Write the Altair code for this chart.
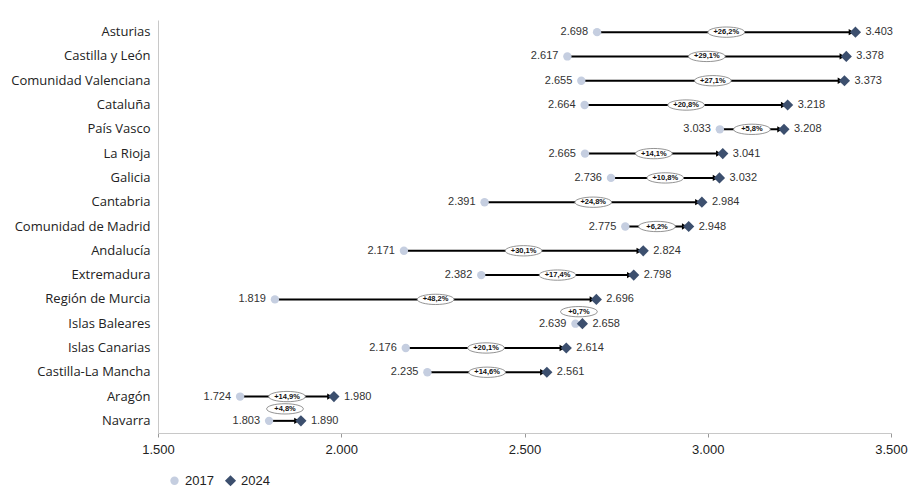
import altair as alt
import pandas as pd

regions = ["Asturias", "Castilla y León", "Comunidad Valenciana", "Cataluña", "País Vasco",
           "La Rioja", "Galicia", "Cantabria", "Comunidad de Madrid", "Andalucía",
           "Extremadura", "Región de Murcia", "Islas Baleares", "Islas Canarias",
           "Castilla-La Mancha", "Aragón", "Navarra"]
v2017 = [2698, 2617, 2655, 2664, 3033, 2665, 2736, 2391, 2775, 2171, 2382, 1819, 2639, 2176, 2235, 1724, 1803]
v2024 = [3403, 3378, 3373, 3218, 3208, 3041, 3032, 2984, 2948, 2824, 2798, 2696, 2658, 2614, 2561, 1980, 1890]
pct = [26.2, 29.1, 27.1, 20.8, 5.8, 14.1, 10.8, 24.8, 6.2, 30.1, 17.4, 48.2, 0.7, 20.1, 14.6, 14.9, 4.8]
years = ["2017", "2024"]
x_ticks = [1500, 2000, 2500, 3000, 3500]


def fmt(v):
    return f"{v:,}".replace(",", ".")


wide = pd.DataFrame({
    "region": regions, "v2017": v2017, "v2024": v2024, "pct": pct,
    "l2017": [fmt(v) for v in v2017], "l2024": [fmt(v) for v in v2024],
    "plabel": ["+" + f"{p:.1f}".replace(".", ",") + "%" for p in pct],
})
wide["mid"] = (wide["v2017"] + wide["v2024"]) / 2

long = pd.concat([
    pd.DataFrame({"region": regions, "year": years[0], "value": v2017}),
    pd.DataFrame({"region": regions, "year": years[1], "value": v2024}),
])

FONT = "Liberation Sans"

xscale = alt.Scale(domain=[1500, 3500], nice=False, zero=False)
yenc = alt.Y("region:N", sort=regions, title=None,
             axis=alt.Axis(domainColor="#c8c8c8", ticks=False, labelPadding=8,
                           labelFontSize=13, labelFont="Open Sans", labelColor="#222",
                           labelLimit=200))

base = alt.Chart(wide)

rule = base.mark_rule(color="black", strokeWidth=2).encode(
    x=alt.X("v2017:Q", scale=xscale, title=None,
            axis=alt.Axis(values=x_ticks, grid=False, domainColor="#c8c8c8",
                          tickColor="#999", tickSize=4, labelFontSize=13,
                          labelFont=FONT, labelColor="#222", labelPadding=6,
                          labelFlush=False,
                          labelExpr="replace(format(datum.value, ',.0f'), ',', '.')")),
    x2="v2024:Q",
    y=yenc,
)

arrow = base.mark_point(shape="triangle-right", filled=True, color="black",
                        size=40, opacity=1, xOffset=-4).encode(
    x=alt.X("v2024:Q", scale=xscale), y=alt.Y("region:N", sort=regions))

pts = alt.Chart(long).mark_point(filled=True, opacity=1).encode(
    x=alt.X("value:Q", scale=xscale),
    y=alt.Y("region:N", sort=regions),
    color=alt.Color("year:N", scale=alt.Scale(domain=years, range=["#c5cee0", "#3c4f6e"]),
                    title=None,
                    legend=alt.Legend(orient="none", legendX=10, legendY=454,
                                      direction="horizontal", labelFontSize=13,
                                      labelFont=FONT, symbolSize=90, columnPadding=10,
                                      labelColor="#222")),
    shape=alt.Shape("year:N", scale=alt.Scale(domain=years, range=["circle", "diamond"]),
                    title=None),
    size=alt.Size("year:N", scale=alt.Scale(domain=years, range=[70, 125]), legend=None),
)

lab17 = base.mark_text(align="right", dx=-9, fontSize=11, font=FONT, color="#333").encode(
    x=alt.X("v2017:Q", scale=xscale), y=alt.Y("region:N", sort=regions), text="l2017:N")
lab24 = base.mark_text(align="left", dx=10, fontSize=11, font=FONT, color="#333").encode(
    x=alt.X("v2024:Q", scale=xscale), y=alt.Y("region:N", sort=regions), text="l2024:N")

ellipse = "M -1 0 A 1 0.28 0 1 1 1 0 A 1 0.28 0 1 1 -1 0 Z"


def pills(data_filter, yoff):
    b = base.transform_filter(data_filter)
    shape = b.mark_point(shape=ellipse, filled=True, fill="white", stroke="#777",
                         strokeWidth=0.8, size=1350, opacity=1, yOffset=yoff).encode(
        x=alt.X("mid:Q", scale=xscale), y=alt.Y("region:N", sort=regions))
    txt = b.mark_text(fontSize=7.5, fontWeight="bold", font=FONT, color="#111",
                      yOffset=yoff).encode(
        x=alt.X("mid:Q", scale=xscale), y=alt.Y("region:N", sort=regions), text="plabel:N")
    return shape + txt


pill_main = pills("datum.pct >= 5", 0)
pill_up = pills("datum.pct < 5", -12)

chart = alt.layer(rule, arrow, pts, lab17, lab24, pill_main, pill_up).properties(
    width=733, height=413,
    autosize=alt.AutoSizeParams(type="none"),
    padding={"left": 150, "top": 12, "right": 20, "bottom": 56},
).configure_view(stroke=None)

chart.save("out.html", embed_options={"renderer": "svg", "actions": False})
